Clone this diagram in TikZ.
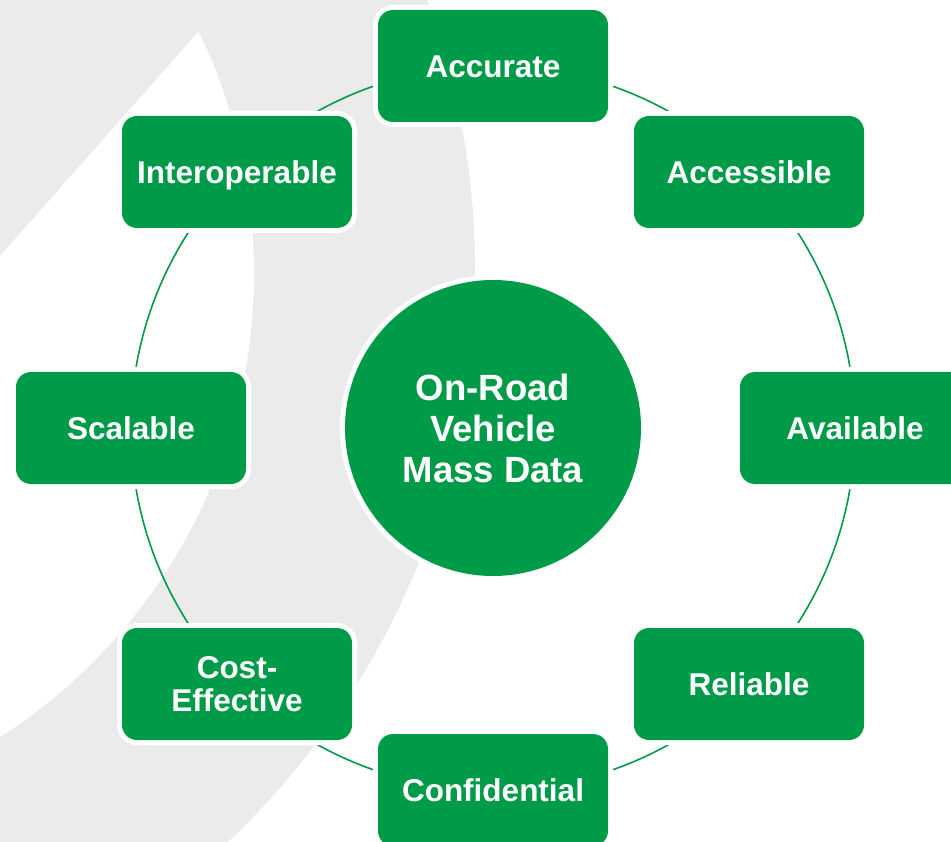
\documentclass[tikz,border=0pt]{standalone}
\usepackage{fontspec}
\setmainfont{Liberation Sans}
\definecolor{leaf}{RGB}{0,155,72}
\definecolor{haze}{RGB}{235,235,235}
\begin{document}
\begin{tikzpicture}[x=1pt,y=-1pt,
  ring/.style={draw=leaf, line width=1.6pt},
  quality/.style={rectangle, rounded corners=15pt, fill=leaf,
    preaction={draw=white, line width=10pt},
    minimum width=230pt, minimum height=112pt, inner sep=0pt,
    text height=22.5pt, text depth=0pt,
    text=white, align=center, font=\bfseries\fontsize{31.5}{32.5}\selectfont},
  twoline/.style={text height={}, text depth={}},
  hubnode/.style={circle, fill=leaf,
    preaction={draw=white, line width=10pt},
    minimum size=296pt, inner sep=0pt,
    text=white, align=center, font=\bfseries\fontsize{36.5}{41}\selectfont}]
  \useasboundingbox (0,0) rectangle (951,842);
  \clip (0,0) rectangle (951,842);

  % soft grey swoosh behind the diagram
  \fill[haze] (-310,270) circle[radius=785];
  \begin{scope}
    \clip (-100,369) -- (315,-100) -- (1000,-100) -- (1000,1000) -- (-100,1000) -- cycle;
    \fill[white] (-297,273) circle[radius=551];
  \end{scope}

  % ring linking the qualities
  \coordinate (o) at (493,428);
  \path[ring] (o) circle[radius=362];

  % qualities around the ring
  \node[quality] (acc) at (493,66)  {Accurate};
  \node[quality] (acs) at (749,172) {Accessible};
  \node[quality] (avl) at (855,428) {Available};
  \node[quality] (rel) at (749,684) {Reliable};
  \node[quality] (con) at (493,790) {Confidential};
  \node[quality, twoline] (cst) at (237,684) {Cost-\\Effective};
  \node[quality] (scl) at (131,428) {Scalable};
  \node[quality] (itp) at (237,172) {Interoperable};

  % central topic
  \node[hubnode] (hub) at (o) {On-Road\\Vehicle\\Mass Data};
\end{tikzpicture}
\end{document}
